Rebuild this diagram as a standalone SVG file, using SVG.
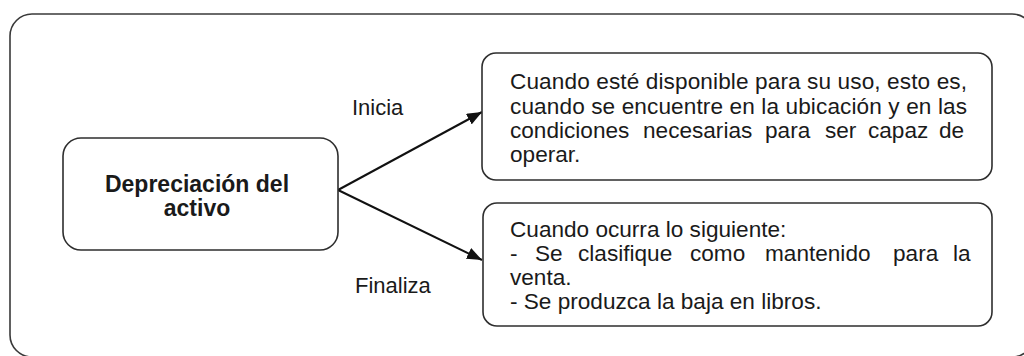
<svg xmlns="http://www.w3.org/2000/svg" width="1024" height="356" viewBox="0 0 1024 356">
<style>
.frame{fill:none;stroke:#3a3a3a;stroke-width:1.6}
.box{fill:#fff;stroke:#2e2e2e;stroke-width:1.6}
.t{font-family:"Liberation Sans",Arial,sans-serif;font-size:22.6px;fill:#1a1a1a}
.l{font-family:"Liberation Sans",Arial,sans-serif;font-size:22px;fill:#1a1a1a}
.b{font-family:"Liberation Sans",Arial,sans-serif;font-size:23px;font-weight:bold;fill:#1a1a1a}
.conn{stroke:#111;stroke-width:2;fill:none}
</style>
<defs>
<marker id="arr" markerUnits="userSpaceOnUse" markerWidth="16" markerHeight="12" refX="15" refY="6" orient="auto">
<path d="M0,0 L15,6 L0,12 z" fill="#111"/>
</marker>
</defs>
<rect class="frame" x="10" y="14" width="1024" height="343" rx="22"/>
<g id="connectors">
<line class="conn" x1="338" y1="190" x2="482" y2="112" marker-end="url(#arr)"/>
<line class="conn" x1="338" y1="190" x2="482" y2="260" marker-end="url(#arr)"/>
<text class="l" x="352" y="115">Inicia</text>
<text class="l" x="355" y="293">Finaliza</text>
</g>
<g id="node-depreciacion">
<rect class="box" x="63" y="138" width="275" height="112" rx="18"/>
<text class="b" x="197" y="192" text-anchor="middle">Depreciación del</text>
<text class="b" x="197" y="216" text-anchor="middle">activo</text>
</g>
<g id="node-inicia">
<rect class="box" x="482" y="53" width="510" height="127" rx="14"/>
<text class="t" x="510" y="89" textLength="457" lengthAdjust="spacing">Cuando esté disponible para su uso, esto es,</text>
<text class="t" x="510" y="114" textLength="457" lengthAdjust="spacing">cuando se encuentre en la ubicación y en las</text>
<text class="t" y="138"><tspan x="510">condiciones</tspan><tspan x="643">necesarias</tspan><tspan x="765">para</tspan><tspan x="825">ser</tspan><tspan x="868">capaz</tspan><tspan x="939">de</tspan></text>
<text class="t" x="510" y="162">operar.</text>
</g>
<g id="node-finaliza">
<rect class="box" x="483" y="203" width="509" height="123" rx="14"/>
<text class="t" x="510" y="237">Cuando ocurra lo siguiente:</text>
<text class="t" y="261"><tspan x="510">-</tspan><tspan x="535">Se</tspan><tspan x="578">clasifique</tspan><tspan x="690">como</tspan><tspan x="765">mantenido</tspan><tspan x="893">para</tspan><tspan x="953">la</tspan></text>
<text class="t" x="510" y="285">venta.</text>
<text class="t" x="510" y="309">- Se produzca la baja en libros.</text>
</g>
</svg>
